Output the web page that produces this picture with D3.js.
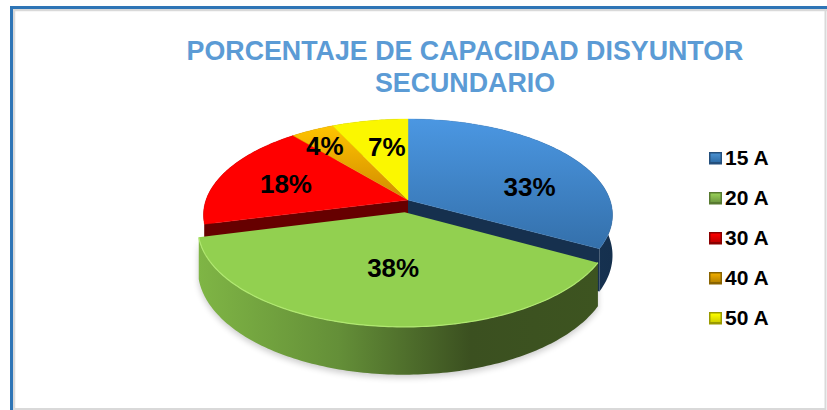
<!DOCTYPE html>
<html><head><meta charset="utf-8">
<script src="https://cdn.jsdelivr.net/npm/d3@7/dist/d3.min.js"></script>
<style>html,body{margin:0;padding:0;background:#fff}svg{display:block}</style>
</head><body><svg id="c" width="827" height="410"></svg>
<script>
const categories = ["15 A","20 A","30 A","40 A","50 A"];
const values = [33,38,18,4,7];
const titleLines = ["PORCENTAJE DE CAPACIDAD DISYUNTOR","SECUNDARIO"];
const topColors = ["url(#gBlue)","#92d050","#ff0000","url(#gOrange)","#fbf700"];
const innerWallColors = ["#16304e","#3b5020","#660000","#8a6000","#8f8f00"];
const swatchStops = [["#2e6da8","#4a90d0","#244f7c"],["#6f9a40","#98d058","#587a30"],["#c00000","#ff0000","#8a0000"],["#b88400","#f0ad00","#8a6400"],["#d0d000","#ffff00","#9a9a00"]];
const explode = [0,0.13,0,0,0];
const labelNudge = [[22,14],[6,-8],[-10,1],[-23,-10],[3,-3]];

const W=827,H=410, cx=408, cy=200, Rx=202, B=93.6, P=0.156, D=39.5;
const svg=d3.select("#c");
const defs=svg.append("defs");
function grad(id,stops,x1,y1,x2,y2){
  const g=defs.append("linearGradient").attr("id",id).attr("x1",x1).attr("y1",y1).attr("x2",x2).attr("y2",y2);
  stops.forEach(s=>g.append("stop").attr("offset",s[0]).attr("stop-color",s[1]));
}
grad("gBlue",[[0,"#4b97e2"],[1,"#3470ab"]],0,0,0,1);
grad("gOrange",[[0,"#ffc400"],[1,"#d08a00"]],0,0,0,1);
grad("gGreenWall",[[0,"#7fb545"],[0.35,"#648f38"],[0.68,"#3b5020"],[1,"#3d5420"]],0,0,1,0);
grad("gBlueWall",[[0,"#1c3f66"],[1,"#15304e"]],0,0,1,0);
defs.append("filter").attr("id","blur").attr("x","-20%").attr("y","-20%").attr("width","140%").attr("height","140%")
  .append("feGaussianBlur").attr("stdDeviation",3);

// perspective projection of a unit-disc point on to the page
function project(u,v,drop){
  const d=1-P*v;
  return [cx+Rx*u/d, cy+B*v/d+(drop?D/d:0)];
}
const line=d3.line().curve(d3.curveLinear);
const pie=d3.pie().sort(null).value(d=>d)(values);
const step=Math.PI/180;
const pol=(a,r,o)=>[r*Math.sin(a)+o[0], -r*Math.cos(a)+o[1]];
function offset(p,i){const m=(p.startAngle+p.endAngle)/2;const e=explode[i];return [e*Math.sin(m),-e*Math.cos(m)];}
function arcPts(p,o,drop,rev,r){
  const n=Math.max(2,Math.ceil((p.endAngle-p.startAngle)/step));
  const a=d3.range(n+1).map(k=>p.startAngle+(p.endAngle-p.startAngle)*k/n);
  if(rev)a.reverse();
  return a.map(t=>{const q=pol(t,r||1,o);return project(q[0],q[1],drop);});
}
const topPath=(p,o,r)=>line([project(o[0],o[1],false),...arcPts(p,o,false,false,r)])+"Z";
const outerWall=(p,o,r)=>line([...arcPts(p,o,false,false,r),...arcPts(p,o,true,true,r)])+"Z";
function edgeWall(p,o,angle){
  const q=pol(angle,1,o);
  return line([project(o[0],o[1],false),project(q[0],q[1],false),project(q[0],q[1],true),project(o[0],o[1],true)])+"Z";
}

// border
const frame=svg.append("g");
frame.append("path").attr("d","M14,410V10H827").attr("fill","none").attr("stroke","#d9d9d9").attr("stroke-width",2.5);
frame.append("path").attr("d","M11.5,410V7.5H827").attr("fill","none").attr("stroke","#2e75b6").attr("stroke-width",3);
frame.append("path").attr("d","M825.5,9V409H14").attr("fill","none").attr("stroke","#d9d9d9").attr("stroke-width",2);

// title
svg.append("g").selectAll("text").data(titleLines).join("text")
  .attr("x",465).attr("y",(d,i)=>60+i*32).attr("text-anchor","middle")
  .attr("font-family","'Liberation Sans',Arial,sans-serif").attr("font-weight","bold").attr("font-size",26.8)
  .attr("fill","#5b9bd5").text(d=>d);

// soft shadow under the pie
const g3=svg.append("g");
const gp=pie[1], go=offset(gp,1), gr=0.99;
g3.append("path").attr("d",outerWall({startAngle:gp.startAngle,endAngle:gp.endAngle},go,gr)).attr("fill","#000").attr("opacity",.2).attr("transform","translate(0,3)").attr("filter","url(#blur)");

// walls of the back slices, then their tops
pie.forEach((p,i)=>{ if(i===1) return;
  const o=offset(p,i);
  g3.append("path").attr("d",outerWall(p,o)).attr("fill",i===0?"url(#gBlueWall)":innerWallColors[i]);
});
g3.append("path").attr("d",edgeWall(pie[0],offset(pie[0],0),pie[0].endAngle)).attr("fill",innerWallColors[0]);
g3.append("path").attr("d",edgeWall(pie[2],offset(pie[2],2),pie[2].startAngle)).attr("fill",innerWallColors[2]);
pie.forEach((p,i)=>{ if(i===1) return;
  g3.append("path").attr("d",topPath(p,offset(p,i))).attr("fill",topColors[i]).attr("stroke",topColors[i]).attr("stroke-width",.4);
});
// exploded slice
g3.append("path").attr("d",outerWall(gp,go,gr)).attr("fill","url(#gGreenWall)");
g3.append("path").attr("d",topPath(gp,go,gr)).attr("fill",topColors[1]);
g3.append("path").attr("d",line(arcPts(gp,go,false,false,gr))).attr("fill","none").attr("stroke","#b0e870").attr("stroke-width",1.2);

// labels
g3.append("g").selectAll("text").data(pie).join("text")
  .attr("text-anchor","middle").attr("dominant-baseline","central")
  .attr("font-family","'Liberation Sans',Arial,sans-serif").attr("font-weight","bold").attr("font-size",26).attr("fill","#000")
  .attr("x",(p,i)=>{const o=offset(p,i),q=pol((p.startAngle+p.endAngle)/2,.6,o);return project(q[0],q[1])[0]+labelNudge[i][0];})
  .attr("y",(p,i)=>{const o=offset(p,i),q=pol((p.startAngle+p.endAngle)/2,.6,o);return project(q[0],q[1])[1]+labelNudge[i][1];})
  .text(p=>p.value+"%");

// legend
const legY=d3.scalePoint().domain(categories).range([158,318]);
const leg=svg.append("g").selectAll("g").data(categories).join("g").attr("transform",d=>`translate(709,${legY(d)})`);
leg.each(function(d,i){
  const s=swatchStops[i], g=d3.select(this), id="sw"+i;
  grad(id,[[0,s[1]],[1,s[0]]],0,0,0,1);
  g.append("rect").attr("x",0).attr("y",-6).attr("width",13).attr("height",12.5).attr("fill",s[2]);
  g.append("rect").attr("x",1.5).attr("y",-4.5).attr("width",10).attr("height",8.5).attr("fill","url(#"+id+")");
});
leg.append("text").attr("x",16).attr("y",-1).attr("dominant-baseline","central")
  .attr("font-family","'Liberation Sans',Arial,sans-serif").attr("font-weight","bold").attr("font-size",21).attr("fill","#000")
  .text(d=>d);
</script></body></html>
